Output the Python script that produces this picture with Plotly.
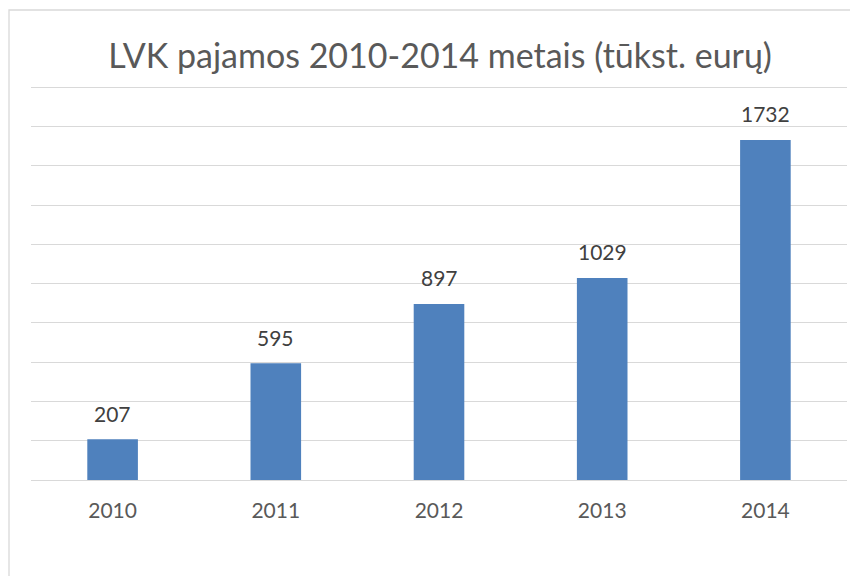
import plotly.graph_objects as go

years = ["2010", "2011", "2012", "2013", "2014"]
income = [207, 595, 897, 1029, 1732]
title_text = "LVK pajamos 2010-2014 metais (tūkst. eurų)"

# page body has 8px margin, so figure is drawn at offset (8, 8)
OFF = 8
W, H = 858 - OFF, 576 - OFF
YMAX = 2012
ml, mr, mb = 31 - OFF, 11, 96
ph = round(393 * YMAX / 2000)
mt = H - mb - ph
pw = W - ml - mr

xpos = list(range(len(years)))

fig = go.Figure()
fig.add_trace(go.Bar(
    x=xpos, y=income,
    marker=dict(color="#4f81bd", line=dict(width=0)),
    customdata=years,
    hovertemplate="%{customdata}: %{y}<extra></extra>",
))

for x, v in zip(xpos, income):
    fig.add_annotation(x=x, y=v, text=str(v), showarrow=False,
                       yanchor="middle", yshift=26,
                       font=dict(family="Lato", size=21, color="#404040"))

# outer chart border
fig.add_shape(type="rect", xref="paper", yref="paper",
              x0=(9 - OFF - ml) / pw, x1=(W + 20 - ml) / pw,
              y0=-(H + 20 - mt - ph) / ph, y1=(mt + ph - (10 - OFF)) / ph,
              line=dict(color="#d9d9d9", width=1.3), fillcolor="rgba(0,0,0,0)",
              layer="below")

fig.update_layout(
    width=W, height=H,
    margin=dict(l=ml, r=mr, t=mt, b=mb, autoexpand=False),
    paper_bgcolor="white", plot_bgcolor="white",
    bargap=0.69,
    showlegend=False,
    title=dict(text=title_text, x=(440 - OFF) / W, xanchor="center",
               y=1 - (56 - OFF) / H, yanchor="middle", yref="container",
               font=dict(family="Lato", size=34, color="#595959")),
    xaxis=dict(range=[-0.5, len(years) - 0.5], tickvals=xpos, ticktext=years,
               showgrid=False, showline=False, ticks="", zeroline=False,
               ticklabelstandoff=16,
               tickfont=dict(family="Lato", size=21, color="#595959")),
    yaxis=dict(range=[0, YMAX], dtick=200, showticklabels=False,
               showgrid=True, gridcolor="#d9d9d9", gridwidth=1.3,
               zeroline=True, zerolinecolor="#d9d9d9", zerolinewidth=1.3,
               showline=False),
)

fig.write_html("out.html")
